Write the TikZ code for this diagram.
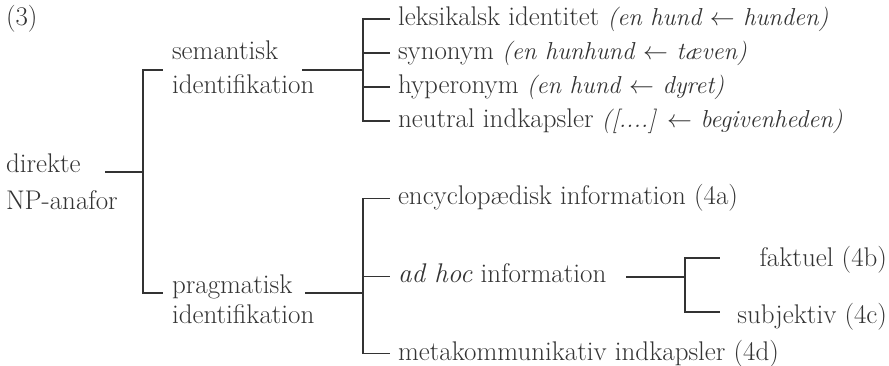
\documentclass[tikz,border=0pt]{standalone}
\usetikzlibrary{positioning}
\tikzset{
    term/.style={inner sep=0pt, outer xsep=8pt, outer ysep=0pt, text height=19pt, text depth=6pt},
    fork/.style={to path={-- ++(#1,0) |- (\tikztotarget)}}
}
\newcommand{\expl}[1]{{\fontsize{24.5}{30}\selectfont\textit{(#1)}}}
\begin{document}
\begin{tikzpicture}[x=1pt, y=1pt, node distance=5pt, font=\fontsize{27}{30}\selectfont, color=black!80, line width=1.2pt]
  \useasboundingbox (0,0) rectangle (889,-366);
  % first level
  \node(num)[term, anchor=west] at (-2,-19) {(3)};
  \node(dir)[term, anchor=west] at (-2,-166.5) {direkte};
  \node(np)[term, below=11.5pt of dir.south west, anchor=north west] {NP-anafor};
  % semantic branch
  \node(lek)[term, anchor=west] at (390,-19) {leksikalsk identitet \expl{en hund $\leftarrow$ hunden}};
  \node(syn)[term, below=9pt of lek.south west, anchor=north west] {synonym \expl{en hunhund $\leftarrow$ tæven}};
  \node(hyp)[term, below=9pt of syn.south west, anchor=north west] {hyperonym \expl{en hund $\leftarrow$ dyret}};
  \node(neu)[term, below=9pt of hyp.south west, anchor=north west] {neutral indkapsler \expl{[....] $\leftarrow$ begivenheden}};
  \node(sem)[term, anchor=west] at (164,0 |- syn.west) {semantisk};
  \node(semid)[term, anchor=west] at (164,0 |- hyp.west) {identifikation};
  % pragmatic branch
  \node(prag)[term, anchor=west] at (164,-287) {pragmatisk};
  \node(pragid)[term, below=of prag.south west, anchor=north west] {identifikation};
  \node(enc)[term, anchor=west] at (390,-198.5) {encyclopædisk information (4a)};
  \node(adhoc)[term, anchor=west] at (390,-276.5) {\textit{ad hoc} information};
  \node(meta)[term, anchor=west] at (390,-353.5) {metakommunikativ indkapsler (4d)};
  \node(fak)[term, anchor=east] at (895,-260) {faktuel (4b)};
  \node(sub)[term, anchor=east] at (895,-317) {subjektiv (4c)};
  % line ends
  \coordinate(dirR) at (105,-172);
  \coordinate(semL) at (163,-70);
  \coordinate(pragL) at (163,-293);
  \coordinate(semR) at (302,-70);
  \coordinate(pragR) at (305,-293);
  \coordinate(adhocR) at (626,-277);
  \coordinate(fakT) at (720,-258);
  \coordinate(subT) at (720,-312);
  % brackets
  \draw[fork=38](dirR) to (semL);
  \draw[fork=38](dirR) to (pragL);
  \draw[fork=61](semR) to (lek.west);
  \draw[fork=61](semR) to (syn.west);
  \draw[fork=61](semR) to (hyp.west);
  \draw[fork=61](semR) to (neu.west);
  \draw[fork=58](pragR) to (enc.west);
  \draw[fork=58](pragR) to (adhoc.west);
  \draw[fork=58](pragR) to (meta.west);
  \draw[fork=59](adhocR) to (fakT);
  \draw[fork=59](adhocR) to (subT);
\end{tikzpicture}
\end{document}
